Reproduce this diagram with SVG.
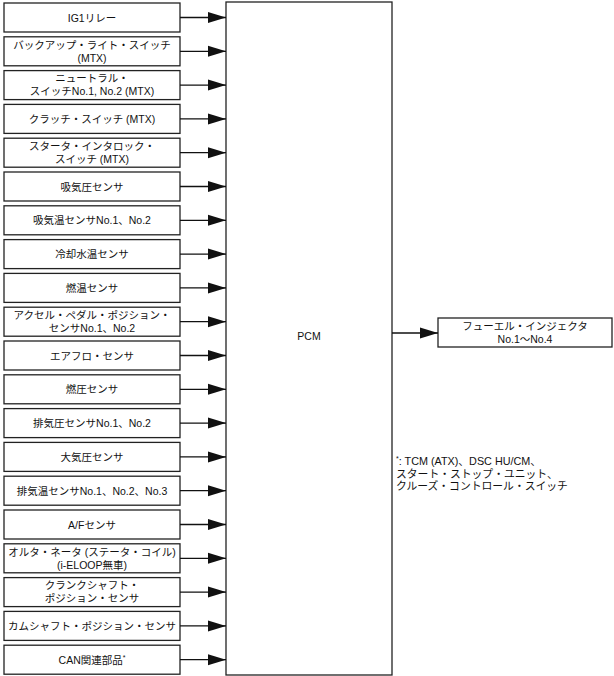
<svg xmlns="http://www.w3.org/2000/svg" width="614" height="676" viewBox="0 0 614 676">
<style>
.box{fill:#fff;stroke:#222;stroke-width:1.3}
.t{font-family:"Liberation Sans","Noto Sans CJK JP",sans-serif;font-size:10.5px;fill:#111;text-anchor:middle}
.n{font-family:"Liberation Sans","Noto Sans CJK JP",sans-serif;font-size:10.8px;fill:#111}
.c{stroke:#111;stroke-width:1.3;fill:none;marker-end:url(#ah)}
</style>
<defs>
<marker id="ah" markerUnits="userSpaceOnUse" markerWidth="19" markerHeight="12" refX="18" refY="6" orient="auto">
<path d="M0,0.5 L18,6 L0,11.5 z" fill="#111"/>
</marker>
</defs>
<rect width="614" height="676" fill="#fff"/>
<g id="pcm"><rect class="box" x="226" y="2" width="166" height="673"/><text class="t" x="309" y="340">PCM</text></g>
<g id="inj"><rect class="box" x="438" y="318" width="174" height="29"/><text class="t" x="525" y="329.5">フューエル・インジェクタ</text><text class="t" x="525" y="343">No.1〜No.4</text></g>
<g id="n0"><rect class="box" x="4" y="3" width="176" height="29"/><text class="t" x="92" y="21.5">IG1リレー</text></g>
<g id="n1"><rect class="box" x="4" y="36.8" width="176" height="29"/><text class="t" x="92" y="48.5">バックアップ・ライト・スイッチ</text><text class="t" x="92" y="61.5">(MTX)</text></g>
<g id="n2"><rect class="box" x="4" y="70.6" width="176" height="29"/><text class="t" x="92" y="82.3">ニュートラル・</text><text class="t" x="92" y="95.3">スイッチNo.1, No.2 (MTX)</text></g>
<g id="n3"><rect class="box" x="4" y="104.4" width="176" height="29"/><text class="t" x="92" y="122.9">クラッチ・スイッチ (MTX)</text></g>
<g id="n4"><rect class="box" x="4" y="138.2" width="176" height="29"/><text class="t" x="92" y="149.9">スタータ・インタロック・</text><text class="t" x="92" y="162.9">スイッチ (MTX)</text></g>
<g id="n5"><rect class="box" x="4" y="172" width="176" height="29"/><text class="t" x="92" y="190.5">吸気圧センサ</text></g>
<g id="n6"><rect class="box" x="4" y="205.8" width="176" height="29"/><text class="t" x="92" y="224.3">吸気温センサNo.1、No.2</text></g>
<g id="n7"><rect class="box" x="4" y="239.6" width="176" height="29"/><text class="t" x="92" y="258.1">冷却水温センサ</text></g>
<g id="n8"><rect class="box" x="4" y="273.4" width="176" height="29"/><text class="t" x="92" y="291.9">燃温センサ</text></g>
<g id="n9"><rect class="box" x="4" y="307.2" width="176" height="29"/><text class="t" x="92" y="318.9">アクセル・ペダル・ポジション・</text><text class="t" x="92" y="331.9">センサNo.1、No.2</text></g>
<g id="n10"><rect class="box" x="4" y="341" width="176" height="29"/><text class="t" x="92" y="359.5">エアフロ・センサ</text></g>
<g id="n11"><rect class="box" x="4" y="374.8" width="176" height="29"/><text class="t" x="92" y="393.3">燃圧センサ</text></g>
<g id="n12"><rect class="box" x="4" y="408.6" width="176" height="29"/><text class="t" x="92" y="427.1">排気圧センサNo.1、No.2</text></g>
<g id="n13"><rect class="box" x="4" y="442.4" width="176" height="29"/><text class="t" x="92" y="460.9">大気圧センサ</text></g>
<g id="n14"><rect class="box" x="4" y="476.2" width="176" height="29"/><text class="t" x="92" y="494.7">排気温センサNo.1、No.2、No.3</text></g>
<g id="n15"><rect class="box" x="4" y="510" width="176" height="29"/><text class="t" x="92" y="528.5">A/Fセンサ</text></g>
<g id="n16"><rect class="box" x="4" y="543.8" width="176" height="29"/><text class="t" x="92" y="555.5">オルタ・ネータ (ステータ・コイル)</text><text class="t" x="92" y="568.5">(i-ELOOP無車)</text></g>
<g id="n17"><rect class="box" x="4" y="577.6" width="176" height="29"/><text class="t" x="92" y="589.3">クランクシャフト・</text><text class="t" x="92" y="602.3">ポジション・センサ</text></g>
<g id="n18"><rect class="box" x="4" y="611.4" width="176" height="29"/><text class="t" x="92" y="629.9">カムシャフト・ポジション・センサ</text></g>
<g id="n19"><rect class="box" x="4" y="645.2" width="176" height="29"/><text class="t" x="92" y="663.7">CAN関連部品<tspan font-size="7" dy="-4">*</tspan></text></g>
<g id="note">
<text class="n" x="396" y="465"><tspan font-size="7" dy="-4">*</tspan><tspan dy="4">: TCM (ATX)、DSC HU/CM、</tspan></text>
<text class="n" x="396" y="477.5">スタート・ストップ・ユニット、</text>
<text class="n" x="396" y="490">クルーズ・コントロール・スイッチ</text>
</g>
<g id="connectors">
<line class="c" x1="180" y1="17.5" x2="226" y2="17.5"/>
<line class="c" x1="180" y1="51.3" x2="226" y2="51.3"/>
<line class="c" x1="180" y1="85.1" x2="226" y2="85.1"/>
<line class="c" x1="180" y1="118.9" x2="226" y2="118.9"/>
<line class="c" x1="180" y1="152.7" x2="226" y2="152.7"/>
<line class="c" x1="180" y1="186.5" x2="226" y2="186.5"/>
<line class="c" x1="180" y1="220.3" x2="226" y2="220.3"/>
<line class="c" x1="180" y1="254.1" x2="226" y2="254.1"/>
<line class="c" x1="180" y1="287.9" x2="226" y2="287.9"/>
<line class="c" x1="180" y1="321.7" x2="226" y2="321.7"/>
<line class="c" x1="180" y1="355.5" x2="226" y2="355.5"/>
<line class="c" x1="180" y1="389.3" x2="226" y2="389.3"/>
<line class="c" x1="180" y1="423.1" x2="226" y2="423.1"/>
<line class="c" x1="180" y1="456.9" x2="226" y2="456.9"/>
<line class="c" x1="180" y1="490.7" x2="226" y2="490.7"/>
<line class="c" x1="180" y1="524.5" x2="226" y2="524.5"/>
<line class="c" x1="180" y1="558.3" x2="226" y2="558.3"/>
<line class="c" x1="180" y1="592.1" x2="226" y2="592.1"/>
<line class="c" x1="180" y1="625.9" x2="226" y2="625.9"/>
<line class="c" x1="180" y1="659.7" x2="226" y2="659.7"/>
<line class="c" x1="392" y1="333" x2="438" y2="333"/>
</g>
</svg>
